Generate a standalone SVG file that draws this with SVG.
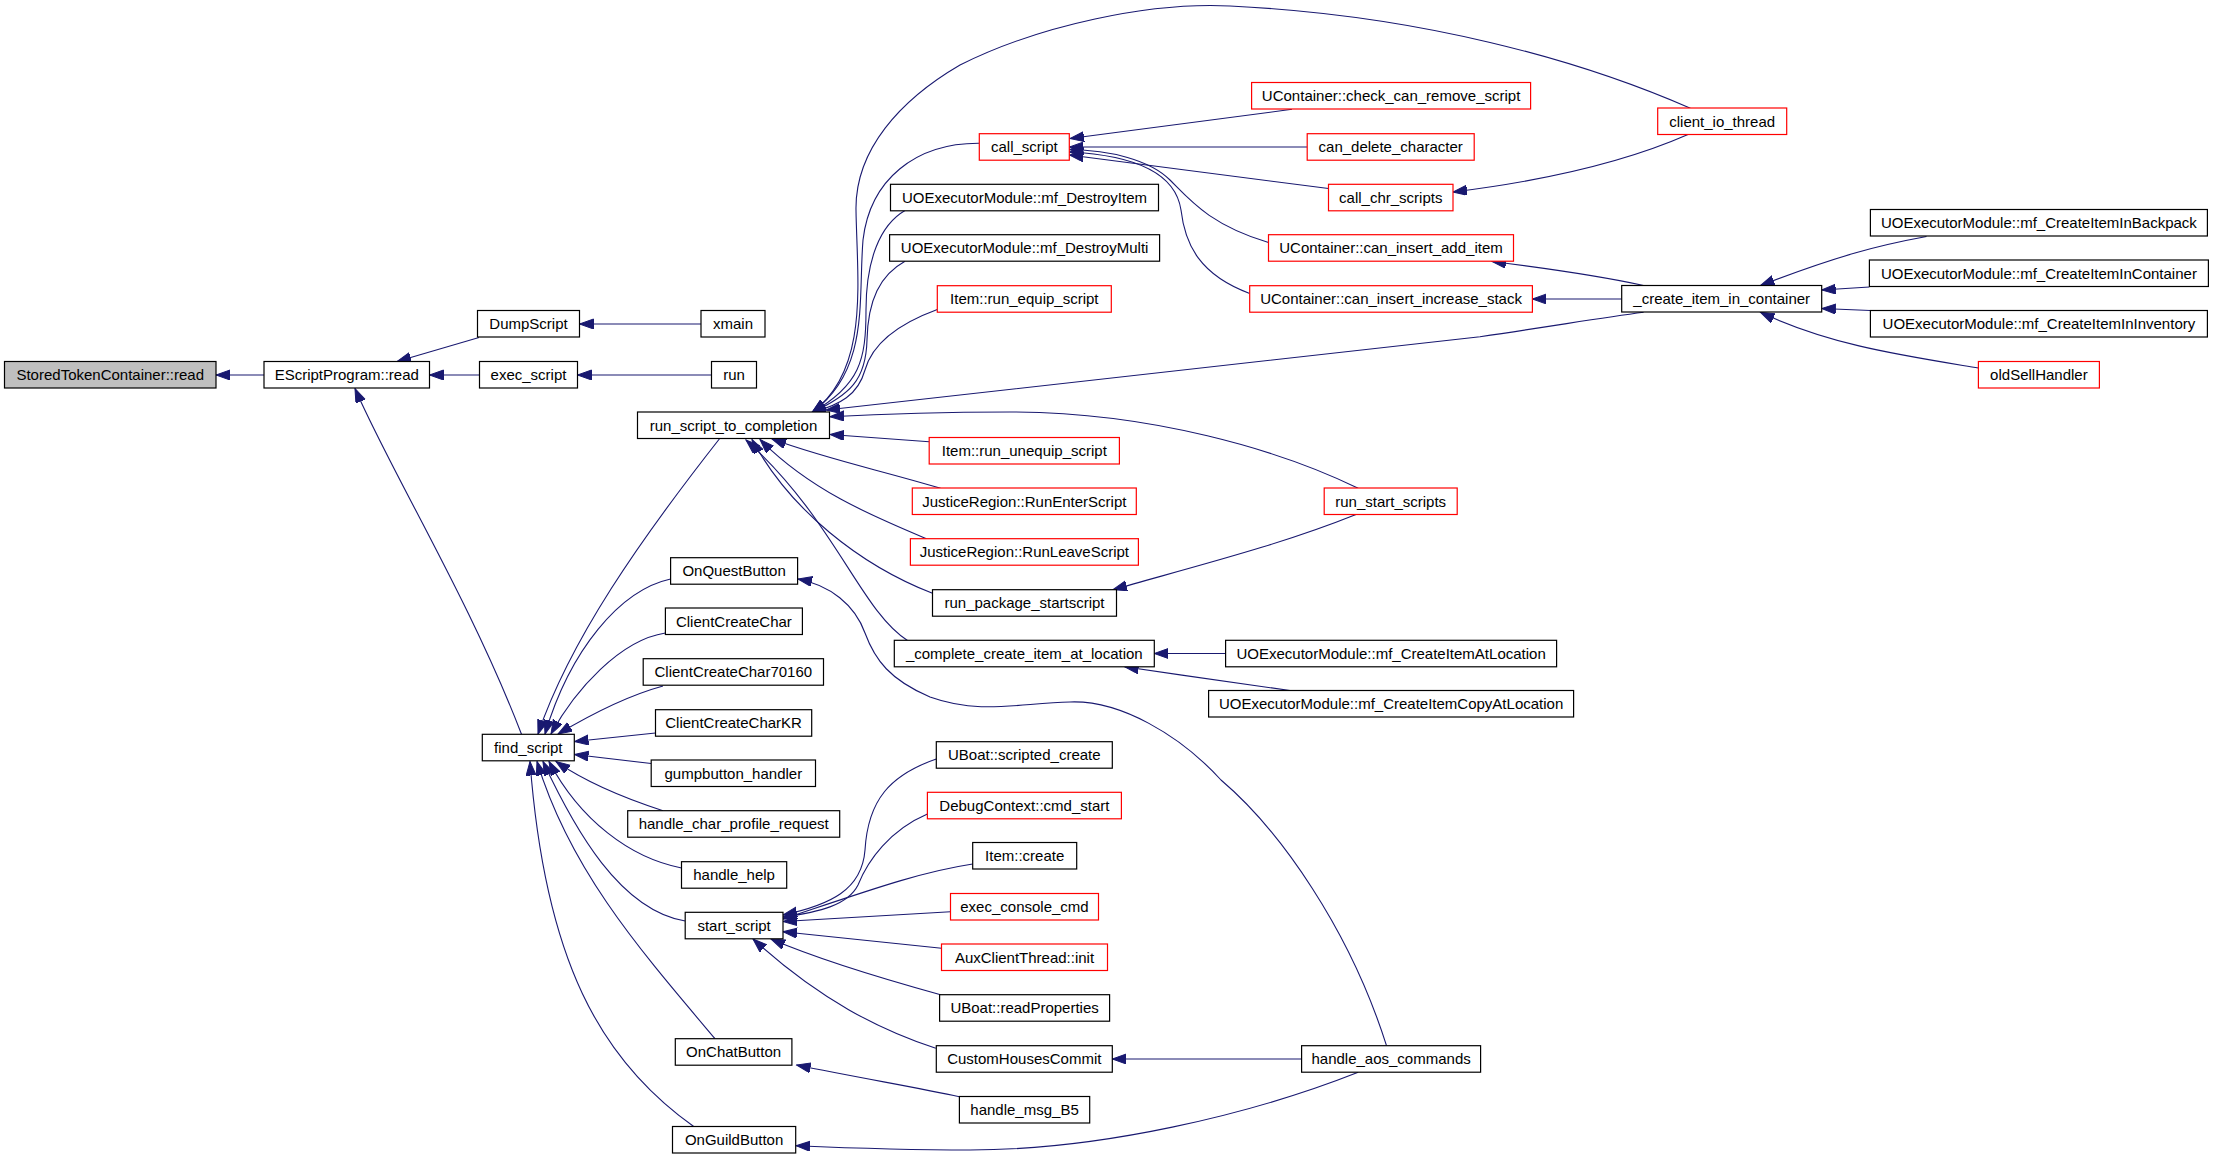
<svg xmlns="http://www.w3.org/2000/svg" width="2213" height="1158" viewBox="0 0 2213 1158">
<style>
.n rect{fill:#ffffff;stroke:#000000;stroke-width:1.2}
.r rect{fill:#ffffff;stroke:#ff0000;stroke-width:1.2}
.g rect{fill:#bfbfbf;stroke:#000000;stroke-width:1.2}
text{font-family:"Liberation Sans",Arial,sans-serif;font-size:15px;fill:#000000;text-anchor:middle}
#edges path{fill:none;stroke:#191970;stroke-width:1.1;marker-end:url(#ah)}
</style>
<defs>
<marker id="ah" markerUnits="userSpaceOnUse" markerWidth="15" markerHeight="11" refX="14" refY="5" orient="auto">
<path d="M0,0 L14,5 L0,10 z" fill="#191970" stroke="#191970" stroke-width="1"/>
</marker>
</defs>
<rect width="2213" height="1158" fill="#ffffff"/>
<g id="edges">
<path d="M264,375 L216,375"/>
<path d="M479,337.5 L397,361.5"/>
<path d="M479.5,375 L429.5,375"/>
<path d="M701,324 L579.5,324"/>
<path d="M711.5,375 L577.5,375"/>
<path d="M521.5,734.3 C470,600 390,470 355,388.5"/>
<path d="M719.7,438.5 C640,540 570,640 538,734"/>
<path d="M670.6,579 C620,590 570,650 545,734"/>
<path d="M665.4,633 C620,640 575,690 551,734"/>
<path d="M663,686 C630,695 595,712 558,734"/>
<path d="M655.5,733 L574.5,741.5"/>
<path d="M651.2,763.5 L574.5,754.5"/>
<path d="M663,810.7 C630,800 590,785 556,761.5"/>
<path d="M681.5,868 C630,858 580,820 549,761.5"/>
<path d="M685.2,921 C620,910 575,830 543,761.5"/>
<path d="M715,1038.7 C640,950 570,870 537,761.5"/>
<path d="M693.7,1126.5 C600,1060 545,960 530,761.5"/>
<path d="M979.3,143.3 C915,143 870,180 863,240 C858,300 870,370 812,412.5"/>
<path d="M905,210.5 C880,225 866,260 866,310 C866,360 860,385 812,412.5"/>
<path d="M905,261.3 C880,275 868,300 867,340 C866,380 850,395 812,412.5"/>
<path d="M937.3,309.5 C895,325 872,345 865,370 C858,395 840,405 812,412.5"/>
<path d="M1690.4,108.3 C1580,60 1420,15 1230,6 C1150,2 1040,25 960,65 C900,100 855,150 856,210 C857,280 870,370 812,412.5"/>
<path d="M1643.6,312.3 C1600,318 1560,325 1480,336.7 L826,410"/>
<path d="M929.2,441.7 L830,434.5"/>
<path d="M1358.2,488.3 C1280,450 1150,412 1010,412 C930,412 880,414 830,416.7"/>
<path d="M940.6,488.3 C880,470 830,460 772,439"/>
<path d="M926.4,538.7 C870,515 810,490 760,439.5"/>
<path d="M932.5,593.3 C860,565 790,510 752,439.5"/>
<path d="M907.5,640.5 C860,610 835,520 746,440"/>
<path d="M1356,514.5 C1280,545 1200,565 1113,589.7"/>
<path d="M1225.6,653.5 L1154.3,653.5"/>
<path d="M1290,690.5 C1230,682 1180,675 1124.6,666.8"/>
<path d="M1386.5,1045.7 C1350,930 1280,830 1221,780 C1180,735 1120,700 1070,702 C1020,703 980,715 930,697 C890,680 875,660 865,633 C855,605 830,585 798,579"/>
<path d="M1292,109.3 L1070,138.5"/>
<path d="M1307.2,147 L1069.4,147"/>
<path d="M1328.5,188.5 L1069.4,155"/>
<path d="M1268.5,242.5 C1210,225 1190,200 1170,180 C1150,160 1110,150 1069.4,149.5"/>
<path d="M1249.7,293.5 C1200,275 1185,245 1181,210 C1175,170 1130,155 1069.4,152"/>
<path d="M1688,134.5 C1630,160 1550,180 1453,192"/>
<path d="M1643.6,285.5 C1600,276 1560,270 1492,261.5"/>
<path d="M1621.7,299 L1532.4,299"/>
<path d="M1926.5,236.5 C1880,245 1840,255 1760.5,285.5"/>
<path d="M1869.4,287 L1821.7,290"/>
<path d="M1870.4,310.5 L1821.7,308.5"/>
<path d="M1978.4,368 C1900,355 1830,345 1760.5,312.3"/>
<path d="M936.3,759 C890,775 868,800 865,850 C862,890 830,905 783,915"/>
<path d="M927.4,814 C890,830 868,860 858,885 C848,905 820,912 783,917"/>
<path d="M972.7,864 C920,872 870,890 783,919"/>
<path d="M950.5,911.7 L783,921.5"/>
<path d="M941.5,948.3 L783,931.7"/>
<path d="M940.6,994.7 C880,978 820,960 771,939"/>
<path d="M935.8,1048.3 C880,1030 820,1000 753,939"/>
<path d="M1301.6,1059 L1112.3,1059"/>
<path d="M959.4,1096.7 C920,1088 860,1078 796.6,1065"/>
<path d="M1358.2,1072.3 C1250,1115 1100,1150 970,1150 C900,1150 850,1148 796,1145.7"/>
</g>
<g id="n_stc" class="g"><rect x="4.5" y="361.5" width="211.5" height="26.5"/><text x="110.25" y="380">StoredTokenContainer::read</text></g>
<g id="n_esp" class="n"><rect x="264" y="361.5" width="165.5" height="26.5"/><text x="346.75" y="380">EScriptProgram::read</text></g>
<g id="n_dump" class="n"><rect x="477.5" y="310.5" width="102" height="26.5"/><text x="528.5" y="329">DumpScript</text></g>
<g id="n_exec" class="n"><rect x="479.5" y="361.5" width="98" height="26.5"/><text x="528.5" y="380">exec_script</text></g>
<g id="n_xmain" class="n"><rect x="701" y="310.5" width="64" height="26.5"/><text x="733" y="329">xmain</text></g>
<g id="n_run" class="n"><rect x="711.5" y="361.5" width="45" height="26.5"/><text x="734" y="380">run</text></g>
<g id="n_rstc" class="n"><rect x="637.5" y="412" width="192" height="26.5"/><text x="733.5" y="430.5">run_script_to_completion</text></g>
<g id="n_find" class="n"><rect x="482.3" y="734.3" width="92" height="26.5"/><text x="528.3" y="752.8">find_script</text></g>
<g id="n_quest" class="n"><rect x="670.6" y="557.7" width="127" height="26.5"/><text x="734.1" y="576.2">OnQuestButton</text></g>
<g id="n_ccc" class="n"><rect x="665.4" y="608" width="137" height="26.5"/><text x="733.9" y="626.5">ClientCreateChar</text></g>
<g id="n_ccc7" class="n"><rect x="643.2" y="658.7" width="180.3" height="26.5"/><text x="733.35" y="677.2">ClientCreateChar70160</text></g>
<g id="n_ccckr" class="n"><rect x="655.5" y="709.7" width="156.2" height="26.5"/><text x="733.6" y="728.2">ClientCreateCharKR</text></g>
<g id="n_gump" class="n"><rect x="651.2" y="760" width="164.3" height="26.5"/><text x="733.35" y="778.5">gumpbutton_handler</text></g>
<g id="n_hcpr" class="n"><rect x="627.7" y="810.7" width="212" height="26.5"/><text x="733.7" y="829.2">handle_char_profile_request</text></g>
<g id="n_help" class="n"><rect x="681.5" y="861.7" width="105.2" height="26.5"/><text x="734.1" y="880.2">handle_help</text></g>
<g id="n_start" class="n"><rect x="685.2" y="912.3" width="97.8" height="26.5"/><text x="734.1" y="930.8">start_script</text></g>
<g id="n_chat" class="n"><rect x="675.3" y="1038.7" width="116.6" height="26.5"/><text x="733.6" y="1057.2">OnChatButton</text></g>
<g id="n_guild" class="n"><rect x="672.5" y="1126.5" width="123.2" height="26.5"/><text x="734.1" y="1145">OnGuildButton</text></g>
<g id="n_call" class="r"><rect x="979.3" y="133.7" width="90" height="26.5"/><text x="1024.3" y="152.2">call_script</text></g>
<g id="n_ccrs" class="r"><rect x="1251.6" y="82.5" width="279" height="26.5"/><text x="1391.1" y="101">UContainer::check_can_remove_script</text></g>
<g id="n_cdc" class="r"><rect x="1307.2" y="133.7" width="167" height="26.5"/><text x="1390.7" y="152.2">can_delete_character</text></g>
<g id="n_chr" class="r"><rect x="1328.5" y="184.3" width="124.5" height="26.5"/><text x="1390.75" y="202.8">call_chr_scripts</text></g>
<g id="n_di" class="n"><rect x="890.5" y="184.3" width="268" height="26.5"/><text x="1024.5" y="202.8">UOExecutorModule::mf_DestroyItem</text></g>
<g id="n_dm" class="n"><rect x="889.6" y="234.7" width="270" height="26.5"/><text x="1024.6" y="253.2">UOExecutorModule::mf_DestroyMulti</text></g>
<g id="n_res" class="r"><rect x="937.3" y="285.7" width="174" height="26.5"/><text x="1024.3" y="304.2">Item::run_equip_script</text></g>
<g id="n_ciai" class="r"><rect x="1268.5" y="234.7" width="245" height="26.5"/><text x="1391" y="253.2">UContainer::can_insert_add_item</text></g>
<g id="n_ciis" class="r"><rect x="1249.7" y="285.7" width="282.7" height="26.5"/><text x="1391.05" y="304.2">UContainer::can_insert_increase_stack</text></g>
<g id="n_cio" class="r"><rect x="1657.7" y="108" width="129" height="26.5"/><text x="1722.2" y="126.5">client_io_thread</text></g>
<g id="n_bp" class="n"><rect x="1870.4" y="209.5" width="337" height="26.5"/><text x="2038.9" y="228">UOExecutorModule::mf_CreateItemInBackpack</text></g>
<g id="n_ic" class="n"><rect x="1869.4" y="260" width="339" height="26.5"/><text x="2038.9" y="278.5">UOExecutorModule::mf_CreateItemInContainer</text></g>
<g id="n_inv" class="n"><rect x="1870.4" y="310.5" width="337" height="26.5"/><text x="2038.9" y="329">UOExecutorModule::mf_CreateItemInInventory</text></g>
<g id="n_cic" class="n"><rect x="1621.7" y="285.5" width="200" height="26.5"/><text x="1721.7" y="304">_create_item_in_container</text></g>
<g id="n_old" class="r"><rect x="1978.4" y="361.5" width="121" height="26.5"/><text x="2038.9" y="380">oldSellHandler</text></g>
<g id="n_rus" class="r"><rect x="929.2" y="437.5" width="190.2" height="26.5"/><text x="1024.3" y="456">Item::run_unequip_script</text></g>
<g id="n_rent" class="r"><rect x="912.3" y="488" width="224" height="26.5"/><text x="1024.3" y="506.5">JusticeRegion::RunEnterScript</text></g>
<g id="n_rleave" class="r"><rect x="910.4" y="538.7" width="228" height="26.5"/><text x="1024.4" y="557.2">JusticeRegion::RunLeaveScript</text></g>
<g id="n_rss" class="r"><rect x="1324.2" y="488" width="133" height="26.5"/><text x="1390.7" y="506.5">run_start_scripts</text></g>
<g id="n_rps" class="n"><rect x="932.5" y="589.7" width="184" height="26.5"/><text x="1024.5" y="608.2">run_package_startscript</text></g>
<g id="n_ccial" class="n"><rect x="894.3" y="640.3" width="260" height="26.5"/><text x="1024.3" y="658.8">_complete_create_item_at_location</text></g>
<g id="n_cial" class="n"><rect x="1225.6" y="640.3" width="331" height="26.5"/><text x="1391.1" y="658.8">UOExecutorModule::mf_CreateItemAtLocation</text></g>
<g id="n_cical" class="n"><rect x="1208.6" y="690.5" width="365" height="26.5"/><text x="1391.1" y="709">UOExecutorModule::mf_CreateItemCopyAtLocation</text></g>
<g id="n_usc" class="n"><rect x="936.3" y="741.7" width="176" height="26.5"/><text x="1024.3" y="760.2">UBoat::scripted_create</text></g>
<g id="n_dcs" class="r"><rect x="927.4" y="792.3" width="194" height="26.5"/><text x="1024.4" y="810.8">DebugContext::cmd_start</text></g>
<g id="n_icr" class="n"><rect x="972.7" y="842.5" width="104" height="26.5"/><text x="1024.7" y="861">Item::create</text></g>
<g id="n_ecc" class="r"><rect x="950.5" y="893.5" width="148" height="26.5"/><text x="1024.5" y="912">exec_console_cmd</text></g>
<g id="n_act" class="r"><rect x="941.5" y="944" width="166" height="26.5"/><text x="1024.5" y="962.5">AuxClientThread::init</text></g>
<g id="n_urp" class="n"><rect x="939.6" y="994.7" width="170" height="26.5"/><text x="1024.6" y="1013.2">UBoat::readProperties</text></g>
<g id="n_chc" class="n"><rect x="936.3" y="1045.7" width="176" height="26.5"/><text x="1024.3" y="1064.2">CustomHousesCommit</text></g>
<g id="n_hmb" class="n"><rect x="959.4" y="1096.5" width="130.3" height="26.5"/><text x="1024.55" y="1115">handle_msg_B5</text></g>
<g id="n_hac" class="n"><rect x="1301.6" y="1045.7" width="179" height="26.5"/><text x="1391.1" y="1064.2">handle_aos_commands</text></g>
</svg>
